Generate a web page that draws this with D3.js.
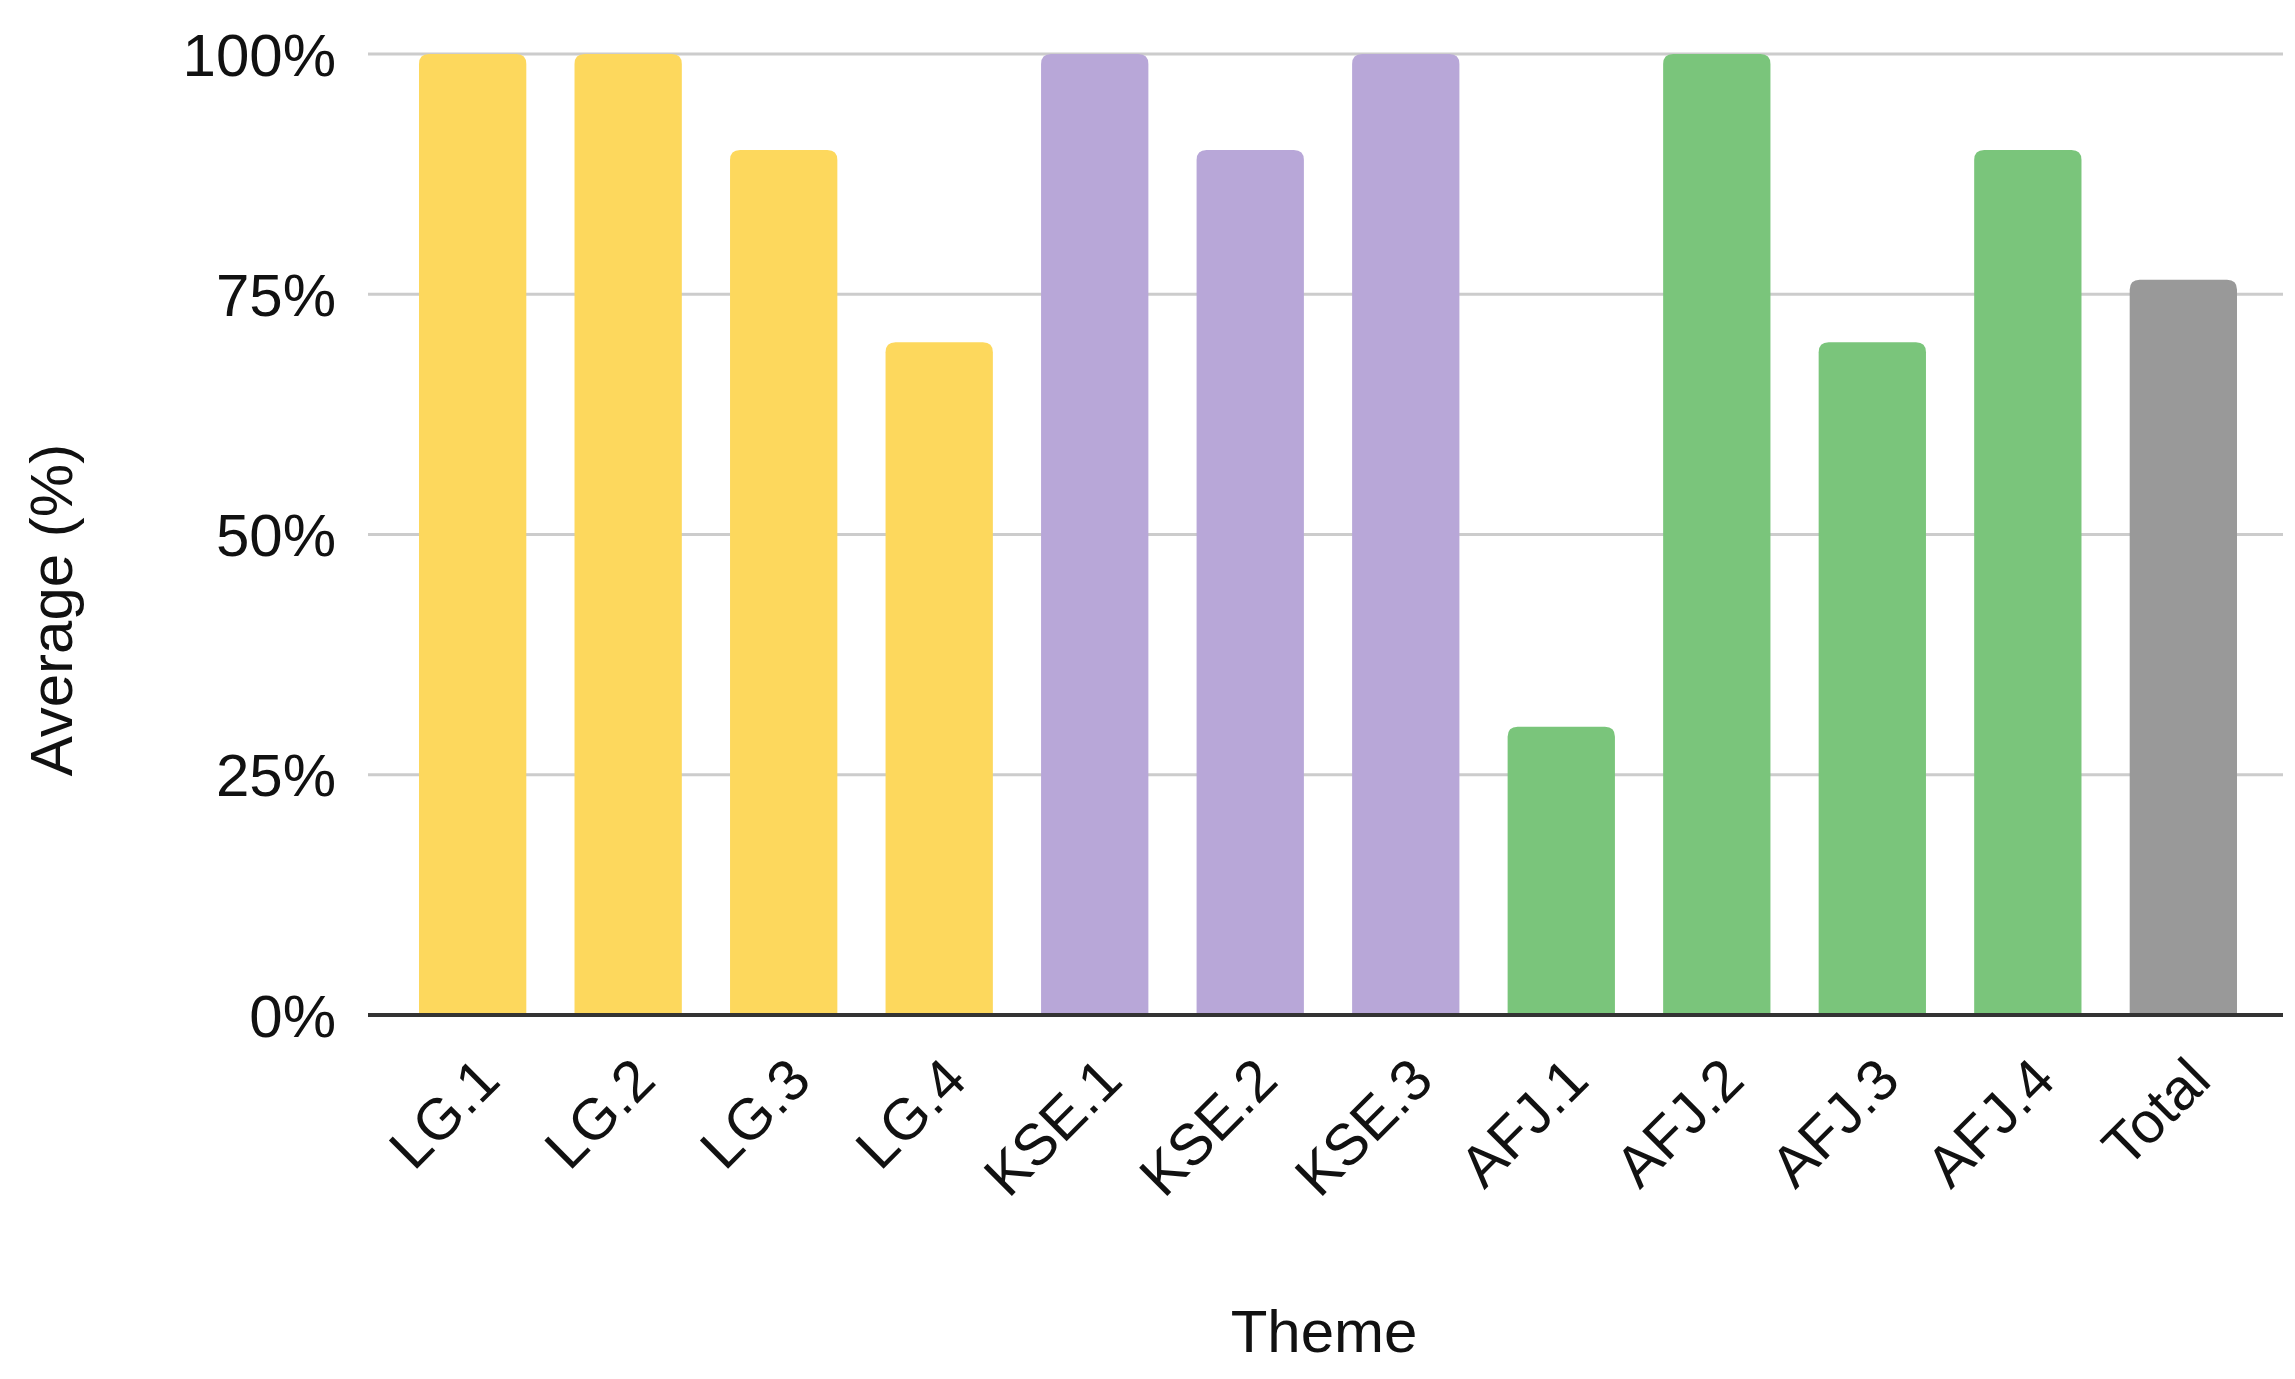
<!DOCTYPE html>
<html>
<head>
<meta charset="utf-8">
<script src="https://cdn.jsdelivr.net/npm/d3@7"></script>
<style>
  body { margin: 0; background: #fff; }
  text { font-family: "Liberation Sans", Arial, sans-serif; fill: #111; }
</style>
</head>
<body>
<div id="chart"></div>
<script>
var categories = ["LG.1", "LG.2", "LG.3", "LG.4", "KSE.1", "KSE.2", "KSE.3", "AFJ.1", "AFJ.2", "AFJ.3", "AFJ.4", "Total"];
var averages = [100, 100, 90, 70, 100, 90, 100, 30, 100, 70, 90, 76.5];
var groups = ["LG", "LG", "LG", "LG", "KSE", "KSE", "KSE", "AFJ", "AFJ", "AFJ", "AFJ", "Total"];
var yTicks = [0, 25, 50, 75, 100];

var groupColors = { LG: "#fdd85d", KSE: "#b8a7d8", AFJ: "#7ac57b", Total: "#999999" };

var width = 2295, height = 1379;
var margin = { left: 368, right: 12, top: 54, bottom: 364 };

var svg = d3.select("#chart").append("svg")
  .attr("width", width)
  .attr("height", height);

// bars occupy a slightly narrower span than the axis line
var x = d3.scaleBand()
  .domain(categories)
  .range([419, 2237])
  .paddingInner(0.31)
  .paddingOuter(0);

var y = d3.scaleLinear()
  .domain([0, 100])
  .range([height - margin.bottom, margin.top]);

// gridlines
svg.append("g")
  .selectAll("line")
  .data(yTicks.filter(function (d) { return d > 0; }))
  .join("line")
  .attr("x1", margin.left)
  .attr("x2", width - margin.right)
  .attr("y1", function (d) { return y(d); })
  .attr("y2", function (d) { return y(d); })
  .attr("stroke", "#cccccc")
  .attr("stroke-width", 3);

// y tick labels
svg.append("g")
  .selectAll("text")
  .data(yTicks)
  .join("text")
  .attr("x", 336)
  .attr("y", function (d) { return y(d); })
  .attr("dy", "0.36em")
  .attr("text-anchor", "end")
  .attr("font-size", 60)
  .text(function (d) { return d + "%"; });

// bars with rounded tops
var r = 10;
svg.append("g")
  .selectAll("path")
  .data(categories)
  .join("path")
  .attr("fill", function (d, i) { return groupColors[groups[i]]; })
  .attr("d", function (d, i) {
    var x0 = x(d), w = x.bandwidth(), y0 = y(averages[i]), yb = y(0);
    return "M" + x0 + "," + yb +
      "V" + (y0 + r) +
      "Q" + x0 + "," + y0 + " " + (x0 + r) + "," + y0 +
      "H" + (x0 + w - r) +
      "Q" + (x0 + w) + "," + y0 + " " + (x0 + w) + "," + (y0 + r) +
      "V" + yb + "Z";
  });

// baseline
svg.append("line")
  .attr("x1", margin.left)
  .attr("x2", width - margin.right)
  .attr("y1", y(0))
  .attr("y2", y(0))
  .attr("stroke", "#333")
  .attr("stroke-width", 4);

// x labels rotated
svg.append("g")
  .selectAll("text")
  .data(categories)
  .join("text")
  .attr("text-anchor", "end")
  .attr("font-size", 58)
  .attr("transform", function (d) {
    return "translate(" + (x(d) + x.bandwidth() / 2 + 30) + "," + (y(0) + 68) + ") rotate(-45)";
  })
  .text(function (d) { return d; });

// axis titles
svg.append("text")
  .attr("x", 1324)
  .attr("y", 1352)
  .attr("text-anchor", "middle")
  .attr("font-size", 60)
  .text("Theme");

svg.append("text")
  .attr("transform", "translate(72," + 610 + ") rotate(-90)")
  .attr("text-anchor", "middle")
  .attr("font-size", 60)
  .text("Average (%)");
</script>
</body>
</html>
